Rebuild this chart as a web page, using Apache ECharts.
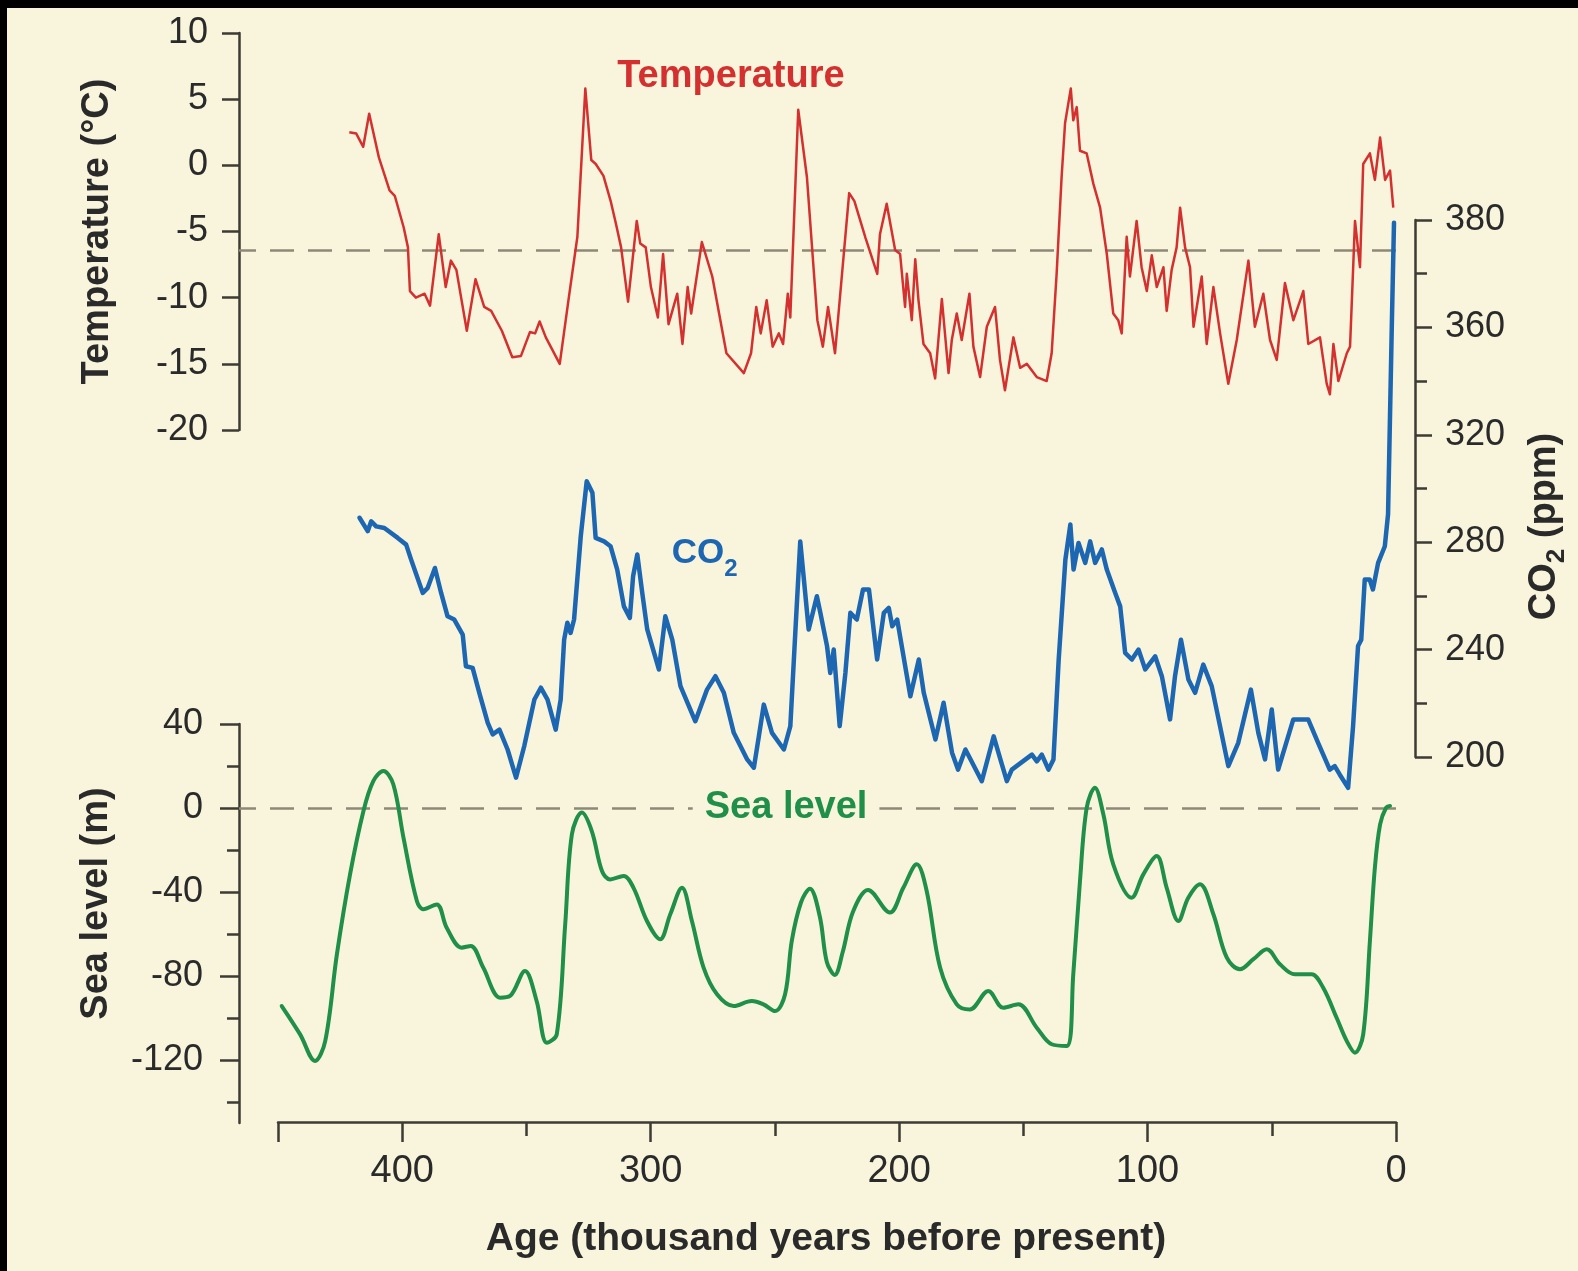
<!DOCTYPE html>
<html>
<head>
<meta charset="utf-8">
<title>Temperature, CO2 and sea level</title>
<script src="https://cdn.jsdelivr.net/npm/echarts@6.0.0/dist/echarts.min.js"></script>
<style>
  html, body { margin: 0; padding: 0; background: #f8f5dc; overflow: hidden; }
  #chart { width: 1578px; height: 1271px; }
  .band-top { position: absolute; left: 0; top: 0; width: 1578px; height: 8px; background: #000; }
  .band-left { position: absolute; left: 0; top: 0; width: 7px; height: 1271px; background: #000; }
</style>
</head>
<body>
<div id="chart"></div>
<div class="band-top"></div>
<div class="band-left"></div>
<script>
// ages are thousand years before present
const tempAge = [
  421.3, 418.5, 415.7, 413.3, 409.4, 405.1, 403.0, 399.4, 397.7, 396.9,
  394.5, 391.0, 388.8, 385.3, 382.5, 380.4, 378.2, 374.0, 370.5, 367.0,
  364.2, 359.9, 355.7, 352.2, 348.6, 346.5, 344.7, 342.2, 336.6, 333.1,
  329.5, 326.3, 323.9, 322.1, 319.0, 316.1, 314.0, 311.9, 309.1, 305.6,
  304.2, 302.0, 299.9, 297.1, 295.0, 292.8, 289.3, 287.2, 285.1, 283.7,
  279.4, 275.2, 269.5, 262.5, 259.6, 257.5, 255.7, 253.3, 250.9, 248.4,
  246.7, 244.8, 243.8, 240.6, 237.1, 232.9, 230.7, 228.6, 225.8, 220.1,
  218.0, 213.5, 208.8, 207.7, 205.0, 201.6, 199.6, 197.6, 196.9, 194.9,
  193.5, 192.2, 190.2, 187.5, 185.5, 182.8, 180.1, 178.8, 176.8, 174.8,
  171.7, 170.1, 167.4, 164.7, 161.4, 159.4, 157.4, 154.0, 151.3, 148.6,
  144.6, 140.6, 138.6, 136.6, 134.6, 133.2, 130.9, 129.9, 128.5, 127.2,
  124.5, 121.8, 119.1, 116.4, 113.8, 111.8, 110.4, 108.4, 107.1, 104.4,
  102.4, 100.3, 98.3, 96.3, 93.6, 92.3, 90.3, 88.3, 86.9, 84.9,
  82.9, 81.5, 78.2, 76.2, 73.5, 70.8, 67.5, 64.1, 59.4, 56.8,
  53.4, 50.7, 48.0, 44.7, 41.3, 37.3, 35.3, 30.6, 27.9, 26.6,
  25.2, 23.2, 19.8, 18.5, 16.5, 14.5, 13.2, 10.5, 8.5, 6.4,
  4.4, 2.4, 1.1
];
const tempVal = [
  2.5, 2.4, 1.4, 3.9, 0.6, -1.9, -2.3, -4.7, -6.2, -9.5,
  -10.0, -9.7, -10.6, -5.2, -9.2, -7.2, -7.9, -12.5, -8.6, -10.7,
  -11.0, -12.5, -14.5, -14.4, -12.6, -12.7, -11.8, -13.0, -15.0, -10.2,
  -5.4, 5.8, 0.4, 0.1, -0.8, -2.7, -4.4, -6.2, -10.3, -4.2,
  -5.9, -6.2, -9.2, -11.5, -6.7, -12.0, -9.7, -13.5, -9.2, -11.2,
  -5.8, -8.4, -14.2, -15.7, -14.2, -10.7, -12.7, -10.2, -13.7, -12.7,
  -13.5, -9.7, -11.5, 4.2, -0.9, -11.7, -13.7, -10.7, -14.2, -2.1,
  -2.7, -5.5, -8.2, -5.2, -2.9, -6.4, -6.7, -10.7, -8.2, -11.7,
  -7.1, -10.2, -13.5, -14.2, -16.1, -10.1, -15.7, -13.2, -11.2, -13.2,
  -9.7, -13.7, -16.0, -12.2, -10.7, -14.7, -17.0, -13.0, -15.3, -15.0,
  -16.0, -16.3, -14.2, -8.2, -0.9, 3.2, 5.8, 3.4, 4.4, 1.1,
  0.9, -1.4, -3.2, -6.7, -11.2, -11.7, -12.7, -5.4, -8.4, -4.2,
  -7.7, -9.5, -6.8, -9.2, -7.7, -11.0, -7.9, -6.2, -3.2, -6.2,
  -7.7, -12.2, -8.4, -13.5, -9.2, -12.7, -16.5, -13.2, -7.2, -12.2,
  -9.7, -13.2, -14.7, -8.9, -11.7, -9.5, -13.5, -13.0, -16.5, -17.3,
  -13.5, -16.3, -14.2, -13.7, -4.2, -7.7, 0.1, 0.9, -1.1, 2.1,
  -1.1, -0.4, -3.2
];

const co2Age = [
  417.1, 413.8, 412.4, 410.4, 407.1, 401.7, 398.3, 396.3, 391.6, 389.6,
  386.7, 384.2, 381.6, 378.9, 375.5, 374.2, 371.5, 368.8, 365.4, 363.4,
  360.7, 357.4, 354.0, 350.7, 346.6, 344.0, 341.3, 338.0, 336.0, 334.6,
  333.3, 332.0, 330.6, 327.9, 325.5, 323.2, 321.9, 318.5, 315.9, 313.2,
  310.5, 308.1, 306.8, 305.1, 303.1, 301.1, 296.4, 293.8, 291.0, 287.7,
  281.7, 277.0, 273.6, 270.2, 266.2, 260.8, 258.1, 256.1, 254.1, 250.8,
  246.0, 243.4, 241.4, 239.4, 236.0, 232.7, 231.3, 228.6, 227.3, 225.9,
  223.5, 221.2, 219.2, 216.6, 214.1, 211.7, 208.4, 205.7, 203.7, 202.3,
  200.3, 195.0, 191.6, 189.6, 184.9, 181.6, 178.2, 175.8, 172.8, 166.2,
  161.4, 158.7, 156.1, 154.1, 146.0, 144.0, 142.0, 139.3, 137.3, 135.2,
  132.5, 130.5, 129.2, 127.2, 124.5, 122.5, 120.5, 117.8, 115.8, 112.4,
  110.4, 108.4, 105.7, 103.0, 100.3, 96.3, 93.6, 90.3, 88.3, 85.9,
  82.9, 80.2, 76.9, 73.5, 66.8, 62.8, 57.7, 54.7, 52.0, 49.3,
  46.7, 40.6, 34.6, 30.6, 25.9, 23.9, 21.9, 18.5, 16.5, 14.5,
  13.2, 11.8, 9.8, 8.5, 6.4, 3.7, 2.4, 0.8, 0.0
];
const co2Val = [
  289.1, 284.1, 287.8, 285.9, 285.3, 281.6, 279.1, 273.5, 261.1, 263.0,
  270.4, 261.1, 252.4, 251.2, 245.6, 233.8, 233.2, 223.9, 212.7, 208.4,
  210.2, 202.8, 192.3, 204.0, 221.4, 225.8, 221.4, 210.2, 221.4, 243.7,
  250.0, 246.2, 251.2, 282.2, 302.7, 298.4, 281.6, 280.3, 278.5, 269.8,
  256.1, 251.8, 267.3, 275.4, 261.1, 247.5, 232.6, 252.4, 243.7, 226.4,
  213.3, 225.1, 230.1, 223.9, 209.0, 199.1, 196.0, 207.7, 219.5, 209.0,
  202.8, 211.5, 246.2, 280.3, 247.5, 259.9, 253.7, 241.3, 231.3, 240.0,
  211.5, 231.3, 253.7, 251.2, 262.4, 262.4, 236.3, 253.7, 255.5, 248.7,
  251.2, 222.6, 236.3, 223.9, 206.5, 220.2, 201.6, 195.3, 202.8, 191.0,
  207.7, 199.1, 191.0, 195.3, 200.9, 198.4, 200.9, 195.3, 199.1, 236.3,
  273.5, 286.6, 269.8, 279.7, 272.3, 280.3, 272.3, 277.3, 269.8, 261.1,
  256.1, 238.8, 236.3, 240.0, 232.6, 237.5, 230.1, 214.0, 230.1, 243.7,
  228.9, 223.9, 234.4, 226.4, 196.6, 205.3, 225.1, 209.0, 199.1, 217.7,
  195.3, 214.0, 214.0, 205.3, 195.3, 196.6, 193.5, 188.5, 211.5, 241.3,
  243.7, 266.1, 266.1, 262.4, 272.3, 278.5, 290.4, 364.5, 399.0
];

const seaAge = [
  448.5, 441.1, 435.1, 431.0, 426.3, 421.0, 415.6, 411.6, 407.6, 403.6,
  399.5, 394.1, 391.5, 386.1, 382.1, 376.1, 372.4, 367.4, 360.6, 356.6,
  350.6, 345.9, 341.8, 337.8, 334.4, 331.7, 327.7, 323.7, 319.6, 316.3,
  310.9, 306.9, 301.5, 296.2, 292.1, 287.4, 283.4, 278.7, 273.3, 266.6,
  259.3, 254.6, 249.9, 245.9, 243.2, 239.5, 235.9, 231.9, 229.1, 225.9,
  222.7, 218.6, 212.5, 203.7, 198.3, 192.9, 188.9, 183.5, 176.8, 171.5,
  164.1, 158.1, 152.0, 144.6, 138.6, 132.5, 129.9, 127.2, 124.5, 121.2,
  117.8, 113.8, 106.4, 101.7, 96.3, 92.3, 87.6, 83.6, 78.9, 73.5,
  68.1, 62.8, 57.4, 52.0, 46.7, 40.7, 34.0, 29.3, 23.9, 19.8,
  16.5, 13.2, 10.5, 8.5, 6.4, 4.0, 2.4
];
const seaVal = [
  -94.3, -107.8, -120.5, -111.0, -69.7, -31.6, -1.4, 12.9, 17.6, 11.3,
  -14.1, -44.3, -48.2, -45.9, -57.0, -66.5, -65.7, -76.0, -90.3, -89.5,
  -77.6, -91.9, -111.8, -107.8, -55.4, -12.5, -2.2, -11.0, -30.0, -34.0,
  -32.4, -38.0, -53.8, -62.5, -50.6, -38.0, -53.8, -76.0, -88.7, -94.3,
  -91.9, -93.5, -96.7, -88.7, -63.3, -45.0, -38.4, -51.8, -73.3, -79.5,
  -68.6, -49.5, -39.0, -49.8, -38.0, -26.8, -39.5, -76.0, -93.5, -95.9,
  -87.1, -95.1, -93.5, -104.6, -112.5, -113.3, -79.2, -34.8, 0.1, 9.7,
  -3.0, -26.8, -42.7, -31.6, -22.9, -38.0, -53.8, -42.7, -36.3, -50.6,
  -71.3, -76.8, -72.0, -67.3, -74.4, -79.2, -79.2, -85.6, -99.9, -111.0,
  -116.5, -107.8, -63.3, -28.4, -7.8, 0.1, 1.0
];

// axis ticks and labels
const ageTicks = [450, 400, 300, 200, 100, 0];
const ageMinorTicks = [350, 250, 150, 50];
const ageLabels = [400, 300, 200, 100, 0];
const co2TickLabels = ['200', '240', '280', '320', '360', '380'];
const seaTicks = [40, 0, -40, -80, -120];
const seaMinorTicks = [20, -20, -60, -100, -140];
const tempRef = -6.4;
const seaRef = 0;

const zip = (a, b) => a.map((x, i) => [x, b[i]]);

const font = 'Liberation Sans, Arial, Helvetica, sans-serif';
const bg = '#f8f5dc';
const axisColor = '#3d3b33';
const textColor = '#2a2a2a';
const dashColor = '#8e8977';
const red = '#d3302f';
const blue = '#1d66b1';
const green = '#1f8f49';

// frame: left y axes at x=239, age axis runs from x=278 (450 ka) to x=1396 (0 ka)
const W = 1578;
const yAxisX = 239, ageLeft = 278, ageRight = 1396;
const ageEdge = 450 * (ageRight - yAxisX) / (ageRight - ageLeft);

const line = { show: true, onZero: false, lineStyle: { color: axisColor, width: 2.5 } };
const noLine = { show: false, onZero: false };
const tickStyle = { color: axisColor, width: 2.5 };
const labelStyle = { color: textColor, fontSize: 36, fontFamily: font };
const nameStyle = { color: textColor, fontSize: 38, fontWeight: 'bold', fontFamily: font };

const hiddenX = (i) => ({
  gridIndex: i, type: 'value', min: 0, max: ageEdge, inverse: true, show: false,
  axisLine: noLine
});

const chart = echarts.init(document.getElementById('chart'));
chart.setOption({
  backgroundColor: bg,
  animation: false,
  textStyle: { fontFamily: font },
  grid: [
    { left: yAxisX, right: W - ageRight, top: 33, height: 397 },
    { left: yAxisX, right: W - ageRight, top: 220, height: 537 },
    { left: yAxisX, right: W - ageRight, top: 724, height: 399 },
    { left: ageLeft, right: W - ageRight, top: 1000, height: 122 }
  ],
  xAxis: [
    hiddenX(0), hiddenX(1), hiddenX(2),
    {
      gridIndex: 3, type: 'value', position: 'bottom', min: 0, max: 450, inverse: true,
      axisLine: line,
      axisTick: { show: true, customValues: ageTicks, length: 20, lineStyle: tickStyle },
      axisLabel: Object.assign({ customValues: ageLabels, margin: 31 }, labelStyle, { fontSize: 38 }),
      splitLine: { show: false },
      name: 'Age (thousand years before present)',
      nameLocation: 'middle', nameGap: 98,
      nameTextStyle: Object.assign({}, nameStyle, { fontSize: 39, padding: [0, 22, 0, 0] })
    },
    {
      gridIndex: 3, type: 'value', position: 'bottom', min: 0, max: 450, inverse: true,
      axisLine: noLine,
      axisTick: { show: true, customValues: ageMinorTicks, length: 14, lineStyle: tickStyle },
      axisLabel: { show: false },
      splitLine: { show: false }
    }
  ],
  yAxis: [
    {
      gridIndex: 0, type: 'value', position: 'left', min: -20, max: 10, interval: 5,
      axisLine: line,
      axisTick: { show: true, length: 17, lineStyle: tickStyle },
      axisLabel: Object.assign({ margin: 31 }, labelStyle),
      splitLine: { show: false },
      name: 'Temperature (°C)', nameLocation: 'middle', nameGap: 122,
      nameTextStyle: nameStyle
    },
    {
      gridIndex: 1, type: 'value', position: 'right', offset: 21, min: 200, max: 400, interval: 40,
      axisLine: line,
      axisTick: { show: true, length: 17, lineStyle: tickStyle },
      minorTick: { show: true, splitNumber: 2, length: 12, lineStyle: tickStyle },
      axisLabel: Object.assign({
        margin: 30,
        formatter: (v) => co2TickLabels[Math.round((v - 200) / 40)]
      }, labelStyle),
      splitLine: { show: false },
      minorSplitLine: { show: false },
      name: 'CO{s|2} (ppm)', nameLocation: 'middle', nameGap: 105,
      nameTextStyle: Object.assign({}, nameStyle, {
        lineHeight: 50,
        padding: [0, 76, 0, 0],
        rich: { s: { fontSize: 26, fontWeight: 'bold', color: textColor, fontFamily: font, verticalAlign: 'bottom', lineHeight: 50 } }
      })
    },
    {
      gridIndex: 2, type: 'value', position: 'left', min: -150, max: 40,
      axisLine: line,
      axisTick: { show: true, customValues: seaTicks, length: 19, lineStyle: tickStyle },
      axisLabel: Object.assign({ customValues: seaTicks, margin: 36 }, labelStyle),
      splitLine: { show: false },
      name: 'Sea level (m)', nameLocation: 'middle', nameGap: 123,
      nameTextStyle: Object.assign({}, nameStyle, { padding: [0, 0, 0, 40] })
    },
    {
      gridIndex: 2, type: 'value', position: 'left', min: -150, max: 40,
      axisLine: noLine,
      axisTick: { show: true, customValues: seaMinorTicks, length: 12, lineStyle: tickStyle },
      axisLabel: { show: false },
      splitLine: { show: false }
    },
    { gridIndex: 3, type: 'value', show: false, axisLine: noLine }
  ],
  series: [
    {
      name: 'Temperature', type: 'line', xAxisIndex: 0, yAxisIndex: 0,
      data: zip(tempAge, tempVal), showSymbol: false, z: 3, clip: false,
      lineStyle: { color: red, width: 2.5, join: 'round' },
      markLine: {
        silent: true, z: 1, symbol: ['none', 'none'], label: { show: false },
        lineStyle: { color: dashColor, width: 2.5, type: [24, 14] },
        data: [{ yAxis: tempRef }]
      },
      markPoint: {
        silent: true, z: 6, symbol: 'circle', symbolSize: 1,
        itemStyle: { color: 'rgba(0,0,0,0)' },
        label: { show: true, position: 'inside', formatter: 'Temperature', color: red, fontSize: 38, fontWeight: 'bold', fontFamily: font },
        data: [{ coord: [267.7, 6.7] }]
      }
    },
    {
      name: 'CO2', type: 'line', xAxisIndex: 1, yAxisIndex: 1,
      data: zip(co2Age, co2Val), showSymbol: false, z: 2, clip: false,
      lineStyle: { color: blue, width: 4.5, join: 'round', cap: 'round' },
      markPoint: {
        silent: true, z: 6, symbol: 'circle', symbolSize: 1,
        itemStyle: { color: 'rgba(0,0,0,0)' },
        label: {
          show: true, position: 'inside', formatter: 'CO{s|2}',
          color: blue, fontSize: 35, fontWeight: 'bold', fontFamily: font, lineHeight: 56,
          rich: { s: { color: blue, fontSize: 24, fontWeight: 'bold', fontFamily: font, verticalAlign: 'bottom', lineHeight: 56 } }
        },
        data: [{ coord: [277.9, 275.8] }]
      }
    },
    {
      name: 'Sea level', type: 'line', xAxisIndex: 2, yAxisIndex: 2,
      data: zip(seaAge, seaVal), showSymbol: false, smooth: 0.35, z: 2, clip: false,
      lineStyle: { color: green, width: 4, join: 'round', cap: 'round' },
      markLine: {
        silent: true, z: 1, symbol: ['none', 'none'], label: { show: false },
        lineStyle: { color: dashColor, width: 2.5, type: [24, 14] },
        data: [{ yAxis: seaRef }]
      },
      markPoint: {
        silent: true, z: 6, symbol: 'circle', symbolSize: 1,
        itemStyle: { color: 'rgba(0,0,0,0)' },
        label: {
          show: true, position: 'inside', formatter: 'Sea level',
          color: green, fontSize: 38, fontWeight: 'bold', fontFamily: font,
          backgroundColor: bg, padding: [2, 12]
        },
        data: [{ coord: [245.5, 0] }]
      }
    }
  ]
});
</script>
</body>
</html>
